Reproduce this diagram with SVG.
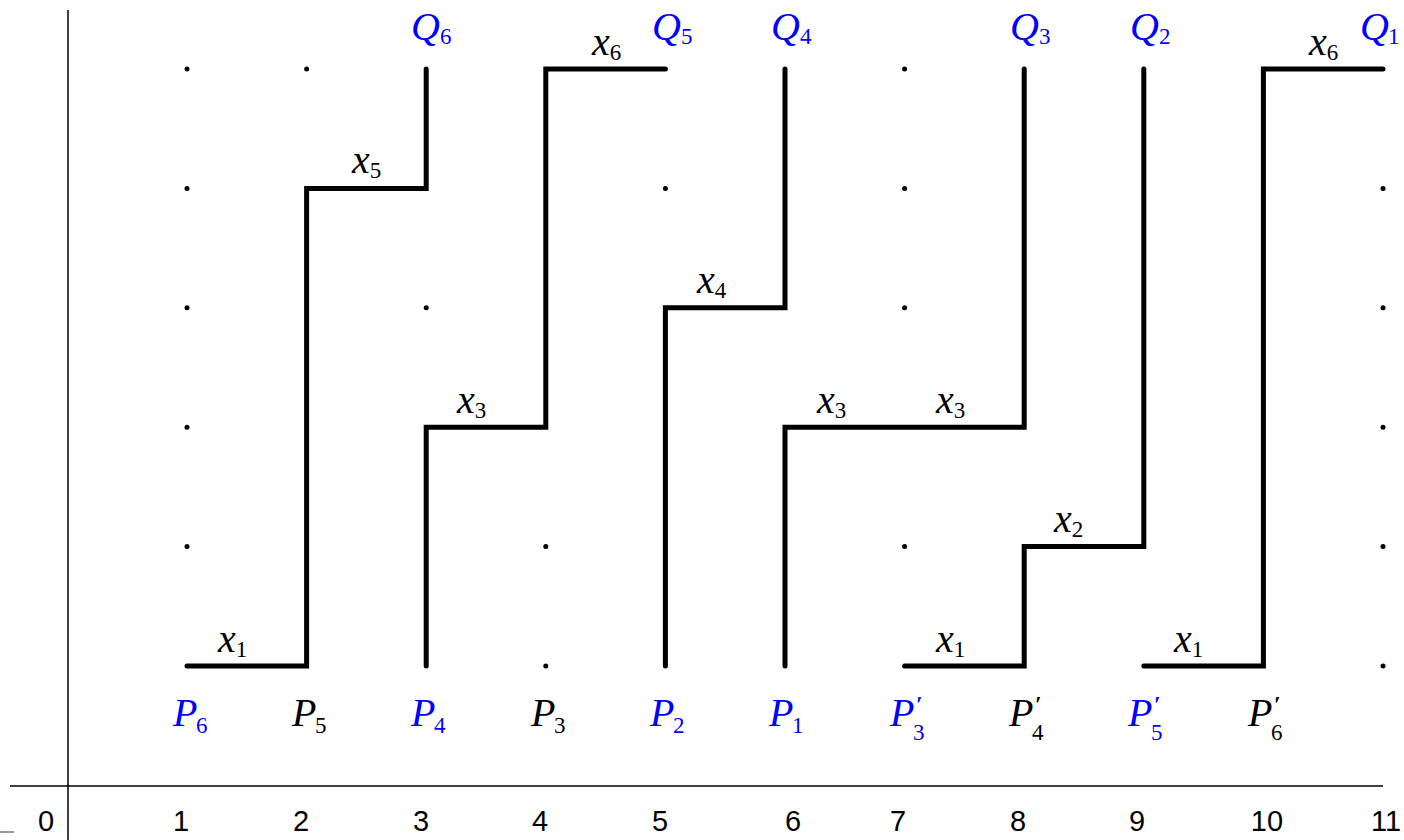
<svg xmlns="http://www.w3.org/2000/svg" width="1404" height="840" viewBox="0 0 1404 840">
<style>
.path{fill:none;stroke:#000;stroke-width:5;stroke-linejoin:miter;stroke-linecap:round}
.axis{stroke:#000;stroke-width:1.5;fill:none}
.dot{fill:#000}
.m{font-family:"Liberation Serif",serif;font-style:italic;font-size:40px}
.s{font-family:"Liberation Serif",serif;font-style:normal;font-size:23px}
.pr{font-family:"Liberation Serif",serif;font-style:normal;font-size:24px;font-weight:bold}
.b{fill:#0000ff}
.k{fill:#000}
.tick{font-family:"Liberation Sans",Arial,sans-serif;font-size:29px;fill:#000;text-anchor:middle}
</style>
<rect width="1404" height="840" fill="#fff"/>
<g id="axes">
<line class="axis" x1="68" y1="10" x2="68" y2="840"/>
<line class="axis" x1="10" y1="786" x2="1383" y2="786"/>
<line x1="0" y1="832" x2="14" y2="832" stroke="#999" stroke-width="2"/>
<text class="tick" x="46" y="831">0</text>
<text class="tick" x="181" y="831">1</text>
<text class="tick" x="301" y="831">2</text>
<text class="tick" x="421" y="831">3</text>
<text class="tick" x="540" y="831">4</text>
<text class="tick" x="660" y="831">5</text>
<text class="tick" x="793" y="831">6</text>
<text class="tick" x="898" y="831">7</text>
<text class="tick" x="1018" y="831">8</text>
<text class="tick" x="1137" y="831">9</text>
<text class="tick" x="1267" y="831">10</text>
<text class="tick" x="1386" y="831">11</text>
</g>
<g id="dots">
<circle class="dot" cx="187" cy="546.6" r="2.5"/>
<circle class="dot" cx="187" cy="427.2" r="2.5"/>
<circle class="dot" cx="187" cy="307.8" r="2.5"/>
<circle class="dot" cx="187" cy="188.4" r="2.5"/>
<circle class="dot" cx="187" cy="69" r="2.5"/>
<circle class="dot" cx="306.6" cy="69" r="2.5"/>
<circle class="dot" cx="426.2" cy="307.8" r="2.5"/>
<circle class="dot" cx="545.8" cy="666" r="2.5"/>
<circle class="dot" cx="545.8" cy="546.6" r="2.5"/>
<circle class="dot" cx="665.4" cy="188.4" r="2.5"/>
<circle class="dot" cx="904.6" cy="546.6" r="2.5"/>
<circle class="dot" cx="904.6" cy="307.8" r="2.5"/>
<circle class="dot" cx="904.6" cy="188.4" r="2.5"/>
<circle class="dot" cx="904.6" cy="69" r="2.5"/>
<circle class="dot" cx="1383" cy="666" r="2.5"/>
<circle class="dot" cx="1383" cy="546.6" r="2.5"/>
<circle class="dot" cx="1383" cy="427.2" r="2.5"/>
<circle class="dot" cx="1383" cy="307.8" r="2.5"/>
<circle class="dot" cx="1383" cy="188.4" r="2.5"/>
</g>
<g id="connectors">
<polyline id="path1" class="path" points="187,666 306.6,666 306.6,188.4 426.2,188.4 426.2,69"/>
<polyline id="path2" class="path" points="426.2,666 426.2,427.2 545.8,427.2 545.8,69 665.4,69"/>
<polyline id="path3" class="path" points="665.4,666 665.4,307.8 785,307.8 785,69"/>
<polyline id="path4" class="path" points="785,666 785,427.2 1024.2,427.2 1024.2,69"/>
<polyline id="path5" class="path" points="904.6,666 1024.2,666 1024.2,546.6 1143.8,546.6 1143.8,69"/>
<polyline id="path6" class="path" points="1143.8,666 1263.4,666 1263.4,69 1383,69"/>
</g>
<g id="edge-labels">
<text x="218" y="652"><tspan class="m">x</tspan><tspan class="s" dy="5">1</tspan></text>
<text x="352" y="173"><tspan class="m">x</tspan><tspan class="s" dy="5">5</tspan></text>
<text x="457" y="413"><tspan class="m">x</tspan><tspan class="s" dy="5">3</tspan></text>
<text x="592" y="55"><tspan class="m">x</tspan><tspan class="s" dy="5">6</tspan></text>
<text x="697" y="293"><tspan class="m">x</tspan><tspan class="s" dy="5">4</tspan></text>
<text x="817" y="413"><tspan class="m">x</tspan><tspan class="s" dy="5">3</tspan></text>
<text x="936" y="413"><tspan class="m">x</tspan><tspan class="s" dy="5">3</tspan></text>
<text x="1054" y="532"><tspan class="m">x</tspan><tspan class="s" dy="5">2</tspan></text>
<text x="936" y="652"><tspan class="m">x</tspan><tspan class="s" dy="5">1</tspan></text>
<text x="1174" y="652"><tspan class="m">x</tspan><tspan class="s" dy="5">1</tspan></text>
<text x="1309" y="55"><tspan class="m">x</tspan><tspan class="s" dy="5">6</tspan></text>
</g>
<g id="node-P6" class="b"><text x="173" y="726"><tspan class="m">P</tspan><tspan class="s" x="196" dy="7">6</tspan></text></g>
<g id="node-P5" class="k"><text x="292" y="726"><tspan class="m">P</tspan><tspan class="s" x="315" dy="7">5</tspan></text></g>
<g id="node-P4" class="b"><text x="411" y="726"><tspan class="m">P</tspan><tspan class="s" x="434" dy="7">4</tspan></text></g>
<g id="node-P3" class="k"><text x="531" y="726"><tspan class="m">P</tspan><tspan class="s" x="554" dy="7">3</tspan></text></g>
<g id="node-P2" class="b"><text x="650" y="726"><tspan class="m">P</tspan><tspan class="s" x="673" dy="7">2</tspan></text></g>
<g id="node-P1" class="b"><text x="769" y="726"><tspan class="m">P</tspan><tspan class="s" x="792" dy="7">1</tspan></text></g>
<g id="node-P3p" class="b"><text x="890" y="726"><tspan class="m">P</tspan><tspan class="pr" x="916" y="712">′</tspan><tspan class="s" x="913" y="740">3</tspan></text></g>
<g id="node-P4p" class="k"><text x="1009" y="726"><tspan class="m">P</tspan><tspan class="pr" x="1035" y="712">′</tspan><tspan class="s" x="1032" y="740">4</tspan></text></g>
<g id="node-P5p" class="b"><text x="1128" y="726"><tspan class="m">P</tspan><tspan class="pr" x="1154" y="712">′</tspan><tspan class="s" x="1151" y="740">5</tspan></text></g>
<g id="node-P6p" class="k"><text x="1248" y="726"><tspan class="m">P</tspan><tspan class="pr" x="1274" y="712">′</tspan><tspan class="s" x="1271" y="740">6</tspan></text></g>
<g id="node-Q6" class="b"><text x="411" y="40"><tspan class="m">Q</tspan><tspan class="s" x="440" dy="4">6</tspan></text></g>
<g id="node-Q5" class="b"><text x="652" y="40"><tspan class="m">Q</tspan><tspan class="s" x="681" dy="4">5</tspan></text></g>
<g id="node-Q4" class="b"><text x="771" y="40"><tspan class="m">Q</tspan><tspan class="s" x="800" dy="4">4</tspan></text></g>
<g id="node-Q3" class="b"><text x="1010" y="40"><tspan class="m">Q</tspan><tspan class="s" x="1039" dy="4">3</tspan></text></g>
<g id="node-Q2" class="b"><text x="1130" y="40"><tspan class="m">Q</tspan><tspan class="s" x="1159" dy="4">2</tspan></text></g>
<g id="node-Q1" class="b"><text x="1360" y="40"><tspan class="m">Q</tspan><tspan class="s" x="1388" dy="4">1</tspan></text></g>
</svg>
